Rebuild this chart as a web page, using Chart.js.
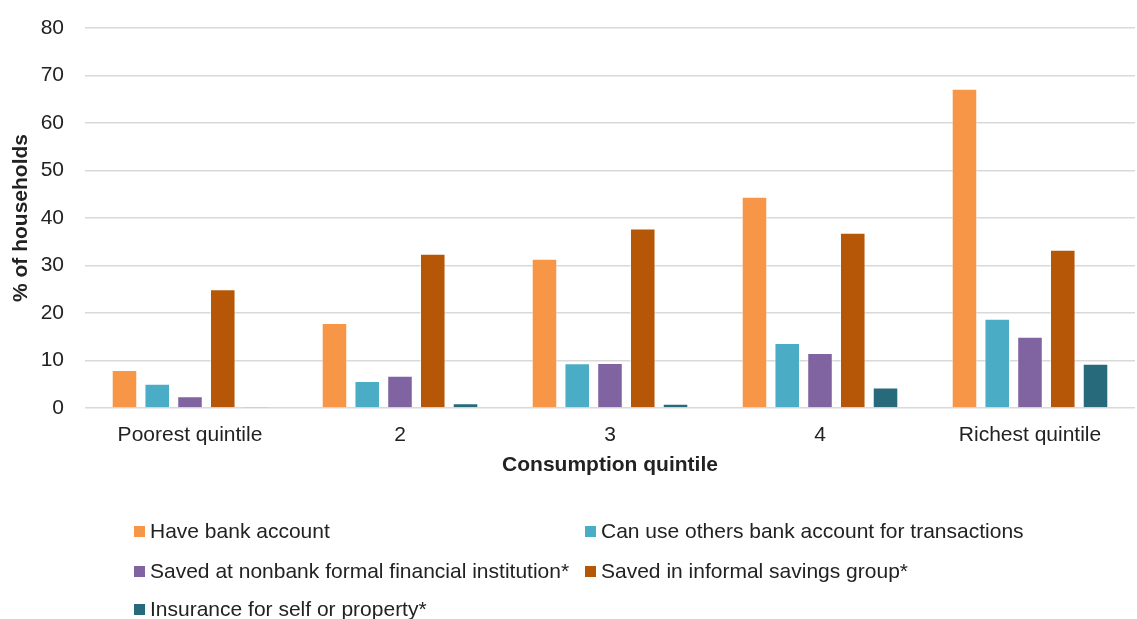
<!DOCTYPE html>
<html>
<head>
<meta charset="utf-8">
<script src="https://cdn.jsdelivr.net/npm/chart.js@4"></script>
<style>
  html, body { margin: 0; padding: 0; background: #fff; }
  #wrap { position: relative; width: 1137px; height: 619px; }
  #legend { position: absolute; left: 0; top: 0; width: 1137px; height: 619px; pointer-events: none;
    font-family: "Liberation Sans", Arial, sans-serif; font-size: 21px; color: #222; }
  .item { position: absolute; white-space: nowrap; line-height: 24px; }
  .item span.box { display: inline-block; width: 11px; height: 11px; margin-right: 5px; vertical-align: 1px; }
</style>
</head>
<body>
<div id="wrap">
  <canvas id="chart" width="1137" height="619"></canvas>
  <div id="legend"></div>
</div>
<script>
const quintiles = ["Poorest quintile", "2", "3", "4", "Richest quintile"];

const haveBankAccount = [8.0, 17.9, 31.4, 44.5, 67.2];
const useOthersAccount = [5.1, 5.7, 9.4, 13.7, 18.8];
const savedNonbank = [2.5, 6.8, 9.5, 11.6, 15.0];
const savedInformal = [25.0, 32.5, 37.8, 36.9, 33.3];
const insurance = [0.3, 1.0, 0.9, 4.3, 9.3];

const seriesNames = [
  "Have bank account",
  "Can use others bank account for transactions",
  "Saved at nonbank formal financial institution*",
  "Saved in informal savings group*",
  "Insurance for self or property*",
];
const seriesColors = ["#F79646", "#4BACC6", "#8064A2", "#B65708", "#276A7C"];
const seriesValues = [haveBankAccount, useOthersAccount, savedNonbank, savedInformal, insurance];

const FONT = "'Liberation Sans', Arial, sans-serif";
const TEXT = "#222";

const datasets = seriesValues.map((values, i) => ({
  label: seriesNames[i],
  data: values,
  backgroundColor: seriesColors[i],
  borderColor: "rgba(255,255,255,0.5)",
  borderWidth: 1,
  barPercentage: 0.78,
  categoryPercentage: 0.78,
}));

new Chart(document.getElementById("chart").getContext("2d"), {
  type: "bar",
  data: { labels: quintiles, datasets },
  options: {
    responsive: false,
    animation: false,
    layout: { padding: { top: 28, right: 2, bottom: 139, left: 0 } },
    plugins: {
      legend: { display: false },
      tooltip: { enabled: false },
    },
    scales: {
      x: {
        grid: { display: false, drawTicks: false },
        border: { display: false },
        ticks: { color: TEXT, font: { family: FONT, size: 21 }, padding: 15, maxRotation: 0 },
        title: {
          display: true,
          text: "Consumption quintile",
          color: TEXT,
          font: { family: FONT, size: 21, weight: "bold" },
          padding: { top: 0, bottom: 2 },
        },
        afterFit: (s) => {
          s.height = 72;
          s.paddingLeft = 0;
          s.paddingRight = 0;
        },
      },
      y: {
        min: 0,
        max: 80,
        ticks: { stepSize: 10, color: TEXT, font: { family: FONT, size: 21 }, padding: 21 },
        grid: { color: "#d9d9d9", lineWidth: 1.5, drawTicks: false },
        border: { display: false },
        title: {
          display: true,
          text: "% of households",
          color: TEXT,
          font: { family: FONT, size: 21, weight: "bold" },
          padding: { top: 9, bottom: 0 },
        },
        afterFit: (s) => {
          s.width = 85;
          s.paddingTop = 0;
          s.paddingBottom = 0;
        },
      },
    },
  },
});

// legend laid out in two columns below the plot
const legendSpots = [
  { left: 134, top: 519 },
  { left: 585, top: 519 },
  { left: 134, top: 559 },
  { left: 585, top: 559 },
  { left: 134, top: 597 },
];
const legend = document.getElementById("legend");
seriesNames.forEach((name, i) => {
  const el = document.createElement("div");
  el.className = "item";
  el.style.left = legendSpots[i].left + "px";
  el.style.top = legendSpots[i].top + "px";
  const box = document.createElement("span");
  box.className = "box";
  box.style.background = seriesColors[i];
  el.appendChild(box);
  el.appendChild(document.createTextNode(name));
  legend.appendChild(el);
});
</script>
</body>
</html>
